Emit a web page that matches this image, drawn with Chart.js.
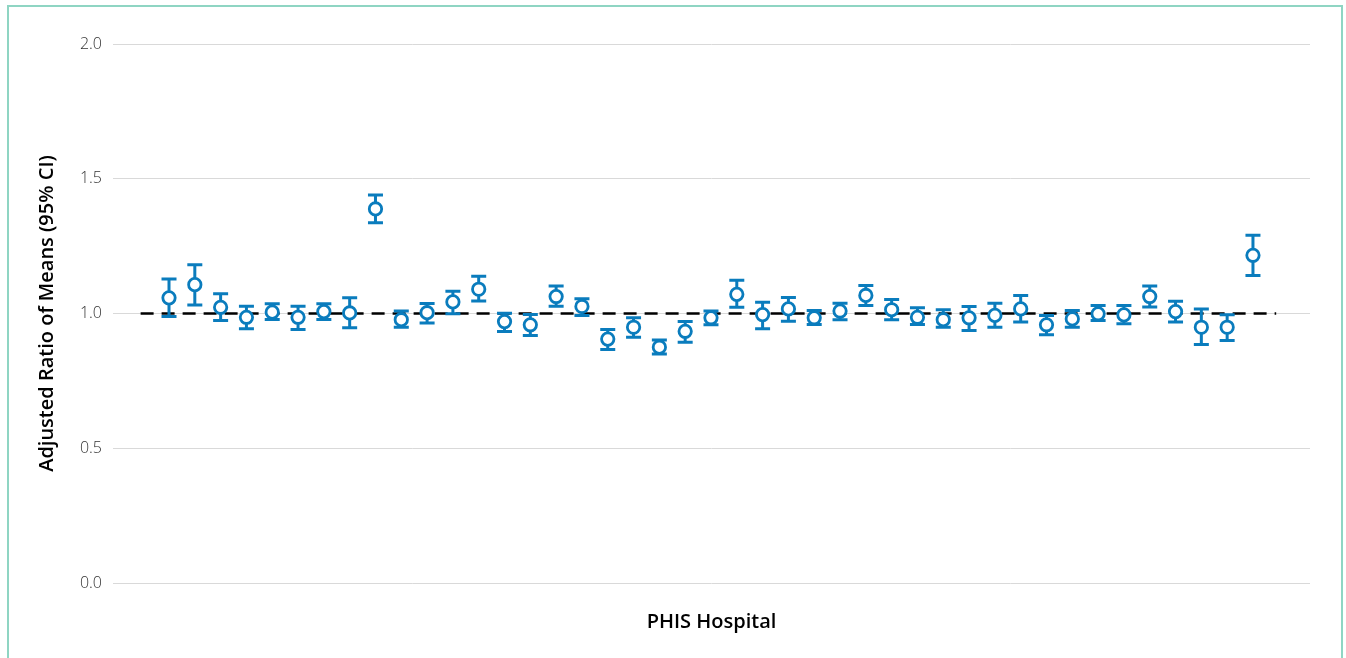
<!DOCTYPE html>
<html>
<head>
<meta charset="utf-8">
<script src="https://cdn.jsdelivr.net/npm/chart.js@4.4.1/dist/chart.umd.min.js"></script>
<style>
    html, body { margin: 0; padding: 0; background: #fff; }
    #wrap { position: relative; width: 1346px; height: 658px; overflow: hidden; }
    #frame {
        position: absolute; left: 7px; top: 5px; width: 1332px; height: 700px;
        border: 2px solid #8fd5c3; pointer-events: none;
    }
    #grafico { position: absolute; left: 0; top: 0; }
</style>
</head>
<body>
<div id="wrap">
    <canvas id="grafico" width="1346" height="658"></canvas>
    <div id="frame"></div>
</div>
<script>
// Razão ajustada das médias por hospital (IC 95%)
const hospitais = [1,2,3,4,5,6,7,8,9,10,11,12,13,14,15,16,17,18,19,20,21,22,23,24,25,26,27,28,29,30,31,32,33,34,35,36,37,38,39,40,41,42,43];
const razao = [1.058,1.107,1.023,0.986,1.005,0.986,1.007,1.002,1.388,0.977,1.003,1.043,1.090,0.970,0.958,1.063,1.026,0.905,0.949,0.875,0.934,0.984,1.071,0.996,1.017,0.984,1.009,1.067,1.014,0.986,0.977,0.984,0.993,1.017,0.958,0.980,0.999,0.995,1.063,1.007,0.949,0.949,1.216];
const icInferior = [0.989,1.032,0.974,0.943,0.978,0.941,0.978,0.947,1.337,0.949,0.965,0.999,1.046,0.933,0.918,1.027,0.993,0.866,0.912,0.850,0.893,0.958,1.023,0.943,0.971,0.959,0.977,1.030,0.977,0.959,0.949,0.937,0.949,0.968,0.921,0.949,0.974,0.962,1.024,0.968,0.885,0.900,1.141];
const icSuperior = [1.128,1.181,1.073,1.027,1.036,1.027,1.036,1.058,1.440,1.009,1.037,1.083,1.138,1.001,0.996,1.102,1.055,0.941,0.984,0.902,0.970,1.009,1.123,1.042,1.059,1.011,1.038,1.104,1.052,1.021,1.014,1.026,1.038,1.067,0.993,1.011,1.030,1.030,1.102,1.045,1.017,0.995,1.290];
const linhaRefX = [-0.1, 43.9];
const linhaRefY = [1, 1];
const ticksY = [0, 0.5, 1, 1.5, 2];

const AZUL = '#0a7cbd';

// desenha as barras de erro usando as escalas do gráfico
const pluginErro = {
    id: 'barrasErro',
    beforeDatasetDraw(chart, args) {
        if (args.index !== 0) return;
        const ctx = chart.ctx;
        const sx = chart.scales.x;
        const sy = chart.scales.y;
        ctx.save();
        ctx.strokeStyle = AZUL;
        ctx.lineWidth = 3;
        hospitais.forEach((h, i) => {
            const px = sx.getPixelForValue(h);
            const yLo = sy.getPixelForValue(icInferior[i]);
            const yHi = sy.getPixelForValue(icSuperior[i]);
            ctx.beginPath();
            ctx.moveTo(px, yLo);
            ctx.lineTo(px, yHi);
            ctx.moveTo(px - 7.5, yLo);
            ctx.lineTo(px + 7.5, yLo);
            ctx.moveTo(px - 7.5, yHi);
            ctx.lineTo(px + 7.5, yHi);
            ctx.stroke();
        });
        ctx.restore();
    }
};

const ctx = document.getElementById('grafico').getContext('2d');
new Chart(ctx, {
    type: 'scatter',
    data: {
        datasets: [{
            label: 'Razão',
            data: hospitais.map((h, i) => ({ x: h, y: razao[i] })),
            pointStyle: 'circle',
            pointRadius: 6.2,
            pointBorderWidth: 2.8,
            pointBackgroundColor: '#ffffff',
            pointBorderColor: AZUL
        }, {
            type: 'line',
            label: 'Referência',
            data: linhaRefX.map((x, i) => ({ x: x, y: linhaRefY[i] })),
            borderColor: '#000000',
            borderWidth: 2.5,
            borderDash: [13, 8],
            pointRadius: 0,
            fill: false
        }]
    },
    options: {
        responsive: false,
        animation: false,
        layout: { padding: { left: 0, right: 36, top: 44, bottom: 0 } },
        plugins: {
            legend: { display: false },
            tooltip: { enabled: false }
        },
        scales: {
            x: {
                type: 'linear',
                min: -1.17,
                max: 45.21,
                grid: { display: false, drawTicks: false },
                border: { display: false },
                ticks: { display: false },
                title: {
                    display: true,
                    text: 'PHIS Hospital',
                    color: '#000',
                    font: { family: 'Open Sans', size: 20, weight: '600' },
                    padding: { top: 27, bottom: 24 }
                }
            },
            y: {
                min: 0,
                max: 2,
                afterBuildTicks: scale => { scale.ticks = ticksY.map(v => ({ value: v })); },
                afterFit: scale => { scale.width = 113; },
                grid: { color: '#d9d9d9', lineWidth: 1, drawTicks: false },
                border: { display: false },
                ticks: {
                    padding: 11,
                    color: '#333333',
                    font: { family: 'Open Sans', size: 16, weight: '300' },
                    callback: v => Number(v).toFixed(1)
                },
                title: {
                    display: true,
                    text: 'Adjusted Ratio of Means (95% CI)',
                    color: '#000',
                    font: { family: 'Open Sans', size: 20, weight: '600' },
                    padding: { top: 35, bottom: 10 }
                }
            }
        }
    },
    plugins: [pluginErro]
});
</script>
</body>
</html>
